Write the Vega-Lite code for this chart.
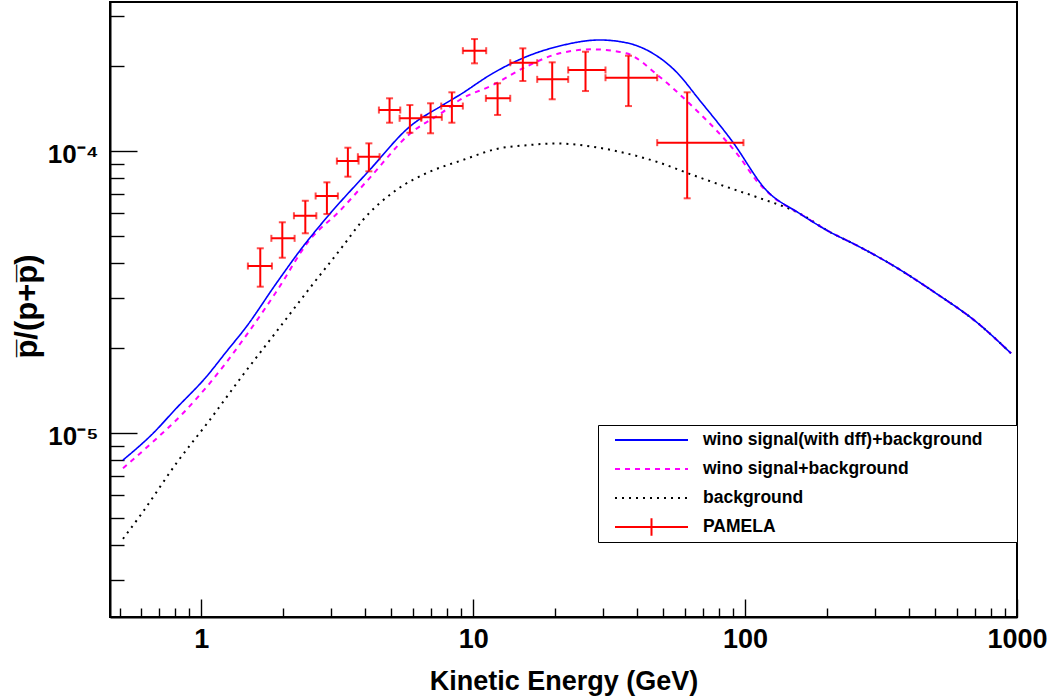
{
  "$schema": "https://vega.github.io/schema/vega-lite/v6.json",
  "width": 907,
  "height": 615,
  "autosize": {"type": "none"},
  "padding": {"left": 110, "top": 2, "right": 38, "bottom": 83},
  "background": "white",
  "datasets": {
    "curves": [
      {"series": "background", "E": 0.515, "V": 4.205e-6},
      {"series": "background", "E": 0.61, "V": 5.247e-6},
      {"series": "background", "E": 0.809, "V": 7.79e-6},
      {"series": "background", "E": 1.073, "V": 1.109e-5},
      {"series": "background", "E": 1.422, "V": 1.602e-5},
      {"series": "background", "E": 1.887, "V": 2.281e-5},
      {"series": "background", "E": 2.501, "V": 3.251e-5},
      {"series": "background", "E": 3.316, "V": 4.592e-5},
      {"series": "background", "E": 3.928, "V": 5.68e-5},
      {"series": "background", "E": 5.212, "V": 7.255e-5},
      {"series": "background", "E": 6.909, "V": 8.42e-5},
      {"series": "background", "E": 9.158, "V": 9.27e-5},
      {"series": "background", "E": 12.15, "V": 1.014e-4},
      {"series": "background", "E": 16.11, "V": 1.048e-4},
      {"series": "background", "E": 20.19, "V": 1.061e-4},
      {"series": "background", "E": 27.53, "V": 1.033e-4},
      {"series": "background", "E": 36.52, "V": 9.79e-5},
      {"series": "background", "E": 48.42, "V": 9.07e-5},
      {"series": "background", "E": 64.19, "V": 8.2e-5},
      {"series": "background", "E": 85.13, "V": 7.45e-5},
      {"series": "background", "E": 112.9, "V": 6.796e-5},
      {"series": "background", "E": 158.3, "V": 5.998e-5},
      {"series": "background", "E": 204.2, "V": 5.162e-5},
      {"series": "background", "E": 255.9, "V": 4.63e-5},
      {"series": "background", "E": 339.3, "V": 3.988e-5},
      {"series": "background", "E": 503.8, "V": 3.121e-5},
      {"series": "background", "E": 707, "V": 2.475e-5},
      {"series": "background", "E": 950.6, "V": 1.912e-5},
      {"series": "wino signal+background", "E": 0.515, "V": 7.48e-6},
      {"series": "wino signal+background", "E": 0.664, "V": 9.29e-6},
      {"series": "wino signal+background", "E": 0.856, "V": 1.172e-5},
      {"series": "wino signal+background", "E": 1.073, "V": 1.497e-5},
      {"series": "wino signal+background", "E": 1.422, "V": 2.132e-5},
      {"series": "wino signal+background", "E": 1.887, "V": 3.162e-5},
      {"series": "wino signal+background", "E": 2.501, "V": 4.824e-5},
      {"series": "wino signal+background", "E": 3.225, "V": 6.11e-5},
      {"series": "wino signal+background", "E": 4.157, "V": 8.0e-5},
      {"series": "wino signal+background", "E": 5.833, "V": 1.146e-4},
      {"series": "wino signal+background", "E": 7.73, "V": 1.371e-4},
      {"series": "wino signal+background", "E": 8.906, "V": 1.513e-4},
      {"series": "wino signal+background", "E": 11.81, "V": 1.71e-4},
      {"series": "wino signal+background", "E": 15.66, "V": 1.986e-4},
      {"series": "wino signal+background", "E": 20.77, "V": 2.215e-4},
      {"series": "wino signal+background", "E": 27.53, "V": 2.288e-4},
      {"series": "wino signal+background", "E": 36.52, "V": 2.215e-4},
      {"series": "wino signal+background", "E": 48.42, "V": 1.83e-4},
      {"series": "wino signal+background", "E": 64.19, "V": 1.432e-4},
      {"series": "wino signal+background", "E": 78.23, "V": 1.184e-4},
      {"series": "wino signal+background", "E": 95.28, "V": 9.52e-5},
      {"series": "wino signal+background", "E": 109.7, "V": 7.87e-5},
      {"series": "wino signal+background", "E": 126.4, "V": 6.87e-5},
      {"series": "wino signal+background", "E": 158.3, "V": 5.998e-5},
      {"series": "wino signal+background", "E": 204.2, "V": 5.162e-5},
      {"series": "wino signal+background", "E": 255.9, "V": 4.63e-5},
      {"series": "wino signal+background", "E": 339.3, "V": 3.988e-5},
      {"series": "wino signal+background", "E": 503.8, "V": 3.121e-5},
      {"series": "wino signal+background", "E": 707, "V": 2.475e-5},
      {"series": "wino signal+background", "E": 950.6, "V": 1.912e-5},
      {"series": "wino signal(with dff)+background", "E": 0.515, "V": 8.0e-6},
      {"series": "wino signal(with dff)+background", "E": 0.664, "V": 9.95e-6},
      {"series": "wino signal(with dff)+background", "E": 0.809, "V": 1.221e-5},
      {"series": "wino signal(with dff)+background", "E": 1.043, "V": 1.579e-5},
      {"series": "wino signal(with dff)+background", "E": 1.236, "V": 1.938e-5},
      {"series": "wino signal(with dff)+background", "E": 1.464, "V": 2.376e-5},
      {"series": "wino signal(with dff)+background", "E": 1.887, "V": 3.387e-5},
      {"series": "wino signal(with dff)+background", "E": 2.363, "V": 4.566e-5},
      {"series": "wino signal(with dff)+background", "E": 2.881, "V": 5.773e-5},
      {"series": "wino signal(with dff)+background", "E": 4.157, "V": 8.54e-5},
      {"series": "wino signal(with dff)+background", "E": 5.833, "V": 1.216e-4},
      {"series": "wino signal(with dff)+background", "E": 7.73, "V": 1.452e-4},
      {"series": "wino signal(with dff)+background", "E": 8.906, "V": 1.576e-4},
      {"series": "wino signal(with dff)+background", "E": 11.81, "V": 1.882e-4},
      {"series": "wino signal(with dff)+background", "E": 15.66, "V": 2.154e-4},
      {"series": "wino signal(with dff)+background", "E": 20.77, "V": 2.351e-4},
      {"series": "wino signal(with dff)+background", "E": 29.13, "V": 2.47e-4},
      {"series": "wino signal(with dff)+background", "E": 36.52, "V": 2.415e-4},
      {"series": "wino signal(with dff)+background", "E": 45.74, "V": 2.215e-4},
      {"series": "wino signal(with dff)+background", "E": 55.77, "V": 1.906e-4},
      {"series": "wino signal(with dff)+background", "E": 67.92, "V": 1.513e-4},
      {"series": "wino signal(with dff)+background", "E": 90.03, "V": 1.074e-4},
      {"series": "wino signal(with dff)+background", "E": 119.5, "V": 7.255e-5},
      {"series": "wino signal(with dff)+background", "E": 158.3, "V": 5.998e-5},
      {"series": "wino signal(with dff)+background", "E": 204.2, "V": 5.162e-5},
      {"series": "wino signal(with dff)+background", "E": 255.9, "V": 4.63e-5},
      {"series": "wino signal(with dff)+background", "E": 339.3, "V": 3.988e-5},
      {"series": "wino signal(with dff)+background", "E": 503.8, "V": 3.121e-5},
      {"series": "wino signal(with dff)+background", "E": 707, "V": 2.475e-5},
      {"series": "wino signal(with dff)+background", "E": 950.6, "V": 1.912e-5}
    ],
    "pamela": [
      {"series": "PAMELA", "e": 1.647, "elo": 1.483, "ehi": 1.818, "v": 3.90e-5, "vlo": 3.295e-5, "vhi": 4.508e-5},
      {"series": "PAMELA", "e": 1.985, "elo": 1.809, "ehi": 2.203, "v": 4.89e-5, "vlo": 4.174e-5, "vhi": 5.575e-5},
      {"series": "PAMELA", "e": 2.412, "elo": 2.19, "ehi": 2.648, "v": 5.88e-5, "vlo": 5.096e-5, "vhi": 6.646e-5},
      {"series": "PAMELA", "e": 2.896, "elo": 2.632, "ehi": 3.178, "v": 6.91e-5, "vlo": 5.963e-5, "vhi": 7.725e-5},
      {"series": "PAMELA", "e": 3.459, "elo": 3.151, "ehi": 3.787, "v": 9.19e-5, "vlo": 8.09e-5, "vhi": 1.025e-4},
      {"series": "PAMELA", "e": 4.132, "elo": 3.764, "ehi": 4.524, "v": 9.52e-5, "vlo": 8.45e-5, "vhi": 1.062e-4},
      {"series": "PAMELA", "e": 4.923, "elo": 4.498, "ehi": 5.39, "v": 1.394e-4, "vlo": 1.257e-4, "vhi": 1.534e-4},
      {"series": "PAMELA", "e": 5.847, "elo": 5.36, "ehi": 6.44, "v": 1.303e-4, "vlo": 1.158e-4, "vhi": 1.452e-4},
      {"series": "PAMELA", "e": 6.967, "elo": 6.44, "ehi": 7.665, "v": 1.314e-4, "vlo": 1.153e-4, "vhi": 1.473e-4},
      {"series": "PAMELA", "e": 8.345, "elo": 7.627, "ehi": 9.158, "v": 1.44e-4, "vlo": 1.257e-4, "vhi": 1.611e-4},
      {"series": "PAMELA", "e": 10.11, "elo": 9.158, "ehi": 11.16, "v": 2.263e-4, "vlo": 2.041e-4, "vhi": 2.489e-4},
      {"series": "PAMELA", "e": 12.29, "elo": 11.13, "ehi": 13.68, "v": 1.534e-4, "vlo": 1.339e-4, "vhi": 1.734e-4},
      {"series": "PAMELA", "e": 15.22, "elo": 13.68, "ehi": 17.19, "v": 2.051e-4, "vlo": 1.767e-4, "vhi": 2.307e-4},
      {"series": "PAMELA", "e": 19.52, "elo": 17.19, "ehi": 22.35, "v": 1.791e-4, "vlo": 1.522e-4, "vhi": 2.058e-4},
      {"series": "PAMELA", "e": 25.88, "elo": 22.35, "ehi": 30.65, "v": 1.933e-4, "vlo": 1.628e-4, "vhi": 2.244e-4},
      {"series": "PAMELA", "e": 37.24, "elo": 30.65, "ehi": 47.49, "v": 1.815e-4, "vlo": 1.44e-4, "vhi": 2.172e-4},
      {"series": "PAMELA", "e": 61.22, "elo": 47.49, "ehi": 98.6, "v": 1.068e-4, "vlo": 6.78e-5, "vhi": 1.611e-4}
    ]
  },
  "layer": [
    {
      "data": {"name": "curves"},
      "transform": [{"filter": "datum.series === 'background'"}],
      "mark": {"type": "line", "interpolate": "monotone", "strokeWidth": 2},
      "encoding": {
        "x": {"field": "E", "type": "quantitative"},
        "y": {"field": "V", "type": "quantitative"},
        "color": {"field": "series", "type": "nominal"},
        "strokeDash": {"field": "series", "type": "nominal"}
      }
    },
    {
      "data": {"name": "curves"},
      "transform": [{"filter": "datum.series === 'wino signal+background'"}],
      "mark": {"type": "line", "interpolate": "monotone", "strokeWidth": 2},
      "encoding": {
        "x": {"field": "E", "type": "quantitative"},
        "y": {"field": "V", "type": "quantitative"},
        "color": {"field": "series", "type": "nominal"},
        "strokeDash": {"field": "series", "type": "nominal"}
      }
    },
    {
      "data": {"name": "curves"},
      "transform": [{"filter": "datum.series === 'wino signal(with dff)+background'"}],
      "mark": {"type": "line", "interpolate": "monotone", "strokeWidth": 1.6},
      "encoding": {
        "x": {"field": "E", "type": "quantitative"},
        "y": {"field": "V", "type": "quantitative"},
        "color": {"field": "series", "type": "nominal"},
        "strokeDash": {"field": "series", "type": "nominal"}
      }
    },
    {
      "data": {"name": "pamela"},
      "mark": {"type": "errorbar", "orient": "horizontal", "thickness": 2, "ticks": {"size": 7, "thickness": 2}},
      "encoding": {
        "x": {"field": "elo", "type": "quantitative"},
        "x2": {"field": "ehi"},
        "y": {"field": "v", "type": "quantitative"},
        "color": {"field": "series", "type": "nominal"}
      }
    },
    {
      "data": {"name": "pamela"},
      "mark": {"type": "errorbar", "orient": "vertical", "thickness": 2, "ticks": {"size": 7, "thickness": 2}},
      "encoding": {
        "x": {"field": "e", "type": "quantitative"},
        "y": {"field": "vlo", "type": "quantitative"},
        "y2": {"field": "vhi"},
        "color": {"field": "series", "type": "nominal"}
      }
    }
  ],
  "encoding": {
    "x": {
      "field": "E",
      "type": "quantitative",
      "scale": {"type": "log", "domain": [0.4613, 1000], "nice": false},
      "axis": {
        "title": "Kinetic Energy (GeV)",
        "values": [0.5, 0.6, 0.7, 0.8, 0.9, 1, 2, 3, 4, 5, 6, 7, 8, 9, 10, 20, 30, 40, 50, 60, 70, 80, 90, 100, 200, 300, 400, 500, 600, 700, 800, 900, 1000],
        "labelExpr": "datum.value == 1 ? '1' : datum.value == 10 ? '10' : datum.value == 100 ? '100' : datum.value == 1000 ? '1000' : ''",
        "tickSize": {"condition": {"test": "datum.value == 1 || datum.value == 10 || datum.value == 100 || datum.value == 1000", "value": -18}, "value": -9},
        "labelFontSize": 27,
        "labelPadding": 27,
        "titleFontSize": 27,
        "titleY": 51
      }
    },
    "y": {
      "field": "V",
      "type": "quantitative",
      "scale": {"type": "log", "domain": [2.221e-6, 3.368e-4], "nice": false},
      "axis": {
        "title": "p\u0305/(p+p\u0305)",
        "values": [3e-6, 4e-6, 5e-6, 6e-6, 7e-6, 8e-6, 9e-6, 1e-5, 2e-5, 3e-5, 4e-5, 5e-5, 6e-5, 7e-5, 8e-5, 9e-5, 1e-4, 2e-4, 3e-4],
        "labelExpr": "datum.value == 0.00001 ? '10\u207b\u2075' : datum.value == 0.0001 ? '10\u207b\u2074' : ''",
        "tickSize": {"condition": {"test": "datum.value == 0.00001 || datum.value == 0.0001", "value": -27}, "value": -14},
        "labelFontSize": 26,
        "labelPadding": 39,
        "labelOffset": 4,
        "titleFontSize": 31,
        "titleX": -83,
        "titleY": 304,
        "titleBaseline": "middle"
      }
    },
    "color": {
      "field": "series",
      "type": "nominal",
      "scale": {
        "domain": ["wino signal(with dff)+background", "wino signal+background", "background", "PAMELA"],
        "range": ["#0000ff", "#ff00ff", "#000000", "#ff0000"]
      },
      "legend": {
        "title": "xxxx",
        "titleOrient": "right",
        "titleColor": "white",
        "titleFontSize": 8,
        "titlePadding": 14,
        "orient": "none",
        "legendX": 488,
        "legendY": 423,
        "encode": {
          "symbols": {
            "update": {
              "shape": {"signal": "datum.value === 'PAMELA' ? 'M-1,0H1M0,-0.24V0.24' : 'stroke'"}
            }
          }
        }
      }
    },
    "strokeDash": {
      "field": "series",
      "type": "nominal",
      "scale": {
        "domain": ["wino signal(with dff)+background", "wino signal+background", "background", "PAMELA"],
        "range": [[1, 0], [5, 5], [2, 5], [1, 0]]
      },
      "legend": {
        "title": "xxxx",
        "titleOrient": "right",
        "titleColor": "white",
        "titleFontSize": 8,
        "titlePadding": 14,
        "orient": "none",
        "legendX": 488,
        "legendY": 423
      }
    }
  },
  "config": {
    "view": {"stroke": "black", "strokeWidth": 2},
    "axis": {
      "grid": false,
      "domainColor": "black",
      "domainWidth": 2,
      "tickColor": "black",
      "tickWidth": 1.4,
      "labelColor": "black",
      "titleColor": "black",
      "labelFont": "Liberation Sans",
      "titleFont": "Liberation Sans",
      "labelFontWeight": "bold",
      "titleFontWeight": "bold",
      "labelOverlap": false,
      "labelFlush": false,
      "labelBound": false
    },
    "legend": {
      "strokeColor": "black",
      "strokeWidth": 1,
      "fillColor": "white",
      "padding": 2,
      "symbolType": "stroke",
      "symbolSize": 5329,
      "symbolStrokeWidth": 2,
      "clipHeight": 26,
      "rowPadding": 3,
      "symbolOffset": 14,
      "labelOffset": 14,
      "labelLimit": 600,
      "labelFont": "Liberation Sans",
      "labelFontSize": 17.5,
      "labelFontWeight": "bold",
      "labelColor": "black"
    }
  }
}
